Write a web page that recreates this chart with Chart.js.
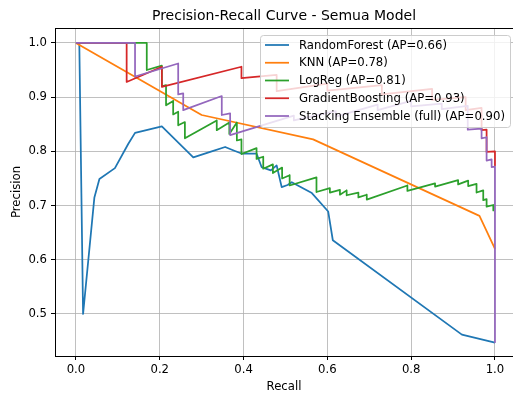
<!DOCTYPE html>
<html>
<head>
<meta charset="utf-8">
<script src="https://cdn.jsdelivr.net/npm/chart.js@4.4.1/dist/chart.umd.min.js"></script>
<style>
	html, body { margin: 0; padding: 0; background: #fff; }
	#wrap { width: 513px; height: 394px; position: relative; }
</style>
</head>
<body>
<div id="wrap"><canvas id="prChart"></canvas></div>
<script>
// values
const xTicks = [0.0, 0.2, 0.4, 0.6, 0.8, 1.0];
const yTicks = [0.5, 0.6, 0.7, 0.8, 0.9, 1.0];

const modelNames = ['RandomForest', 'KNN', 'LogReg', 'GradientBoosting', 'Stacking Ensemble (full)'];
const modelAP = [0.66, 0.78, 0.81, 0.93, 0.90];
const modelColors = ['#1f77b4', '#ff7f0e', '#2ca02c', '#d62728', '#9467bd'];

const rfRecall = [0, 0.008, 0.017, 0.044, 0.056, 0.093, 0.125, 0.141, 0.205, 0.28, 0.324, 0.356, 0.375, 0.395, 0.431, 0.443, 0.465, 0.479, 0.491, 0.505, 0.515, 0.563, 0.602, 0.613, 0.921, 1.0];
const rfPrecision = [1.0, 1.0, 0.5, 0.715, 0.749, 0.769, 0.814, 0.834, 0.846, 0.789, 0.8, 0.808, 0.802, 0.796, 0.796, 0.771, 0.765, 0.774, 0.734, 0.738, 0.743, 0.723, 0.689, 0.636, 0.462, 0.447];

const knnRecall = [0, 0.3, 0.566, 0.963, 1.0];
const knnPrecision = [1.0, 0.867, 0.822, 0.681, 0.62];

const lrRecall = [0, 0.169, 0.169, 0.205, 0.205, 0.215, 0.215, 0.232, 0.232, 0.244, 0.244, 0.26, 0.26, 0.336, 0.336, 0.366, 0.366, 0.384, 0.384, 0.395, 0.395, 0.431, 0.431, 0.447, 0.447, 0.47, 0.47, 0.492, 0.492, 0.51, 0.51, 0.574, 0.574, 0.606, 0.606, 0.63, 0.63, 0.646, 0.646, 0.674, 0.674, 0.694, 0.694, 0.791, 0.791, 0.857, 0.857, 0.912, 0.912, 0.936, 0.936, 0.956, 0.956, 0.972, 0.972, 0.98, 0.98, 0.996, 0.996];
const lrPrecision = [1.0, 1.0, 0.95, 0.958, 0.92, 0.922, 0.885, 0.893, 0.868, 0.873, 0.848, 0.854, 0.824, 0.857, 0.839, 0.853, 0.832, 0.853, 0.82, 0.822, 0.795, 0.806, 0.786, 0.79, 0.768, 0.776, 0.76, 0.77, 0.75, 0.756, 0.737, 0.752, 0.725, 0.732, 0.724, 0.729, 0.72, 0.728, 0.719, 0.724, 0.715, 0.72, 0.711, 0.737, 0.727, 0.741, 0.735, 0.747, 0.739, 0.746, 0.736, 0.74, 0.724, 0.728, 0.71, 0.712, 0.698, 0.701, 0.691];

const gbRecall = [0, 0.121, 0.121, 0.205, 0.205, 0.395, 0.395, 0.479, 0.479, 0.6, 0.6, 0.73, 0.73, 0.85, 0.85, 0.93, 0.93, 0.968, 0.968, 0.98, 0.98, 1.0, 1.0];
const gbPrecision = [1.0, 1.0, 0.928, 0.956, 0.919, 0.956, 0.935, 0.941, 0.911, 0.925, 0.912, 0.922, 0.905, 0.915, 0.895, 0.9, 0.876, 0.88, 0.839, 0.84, 0.799, 0.8, 0.774];

const stRecall = [0, 0.141, 0.141, 0.244, 0.244, 0.256, 0.256, 0.348, 0.348, 0.368, 0.368, 0.52, 0.52, 0.62, 0.62, 0.72, 0.72, 0.8, 0.8, 0.873, 0.873, 0.935, 0.935, 0.968, 0.968, 0.98, 0.98, 0.992, 0.992, 1.0, 1.0];
const stPrecision = [1.0, 1.0, 0.938, 0.962, 0.905, 0.907, 0.876, 0.902, 0.867, 0.87, 0.83, 0.866, 0.857, 0.874, 0.864, 0.886, 0.876, 0.893, 0.883, 0.888, 0.878, 0.884, 0.84, 0.842, 0.824, 0.826, 0.783, 0.785, 0.771, 0.772, 0.448];

const allRecall = [rfRecall, knnRecall, lrRecall, gbRecall, stRecall];
const allPrecision = [rfPrecision, knnPrecision, lrPrecision, gbPrecision, stPrecision];

Chart.defaults.font.family = '"DejaVu Sans", sans-serif';
Chart.defaults.color = '#000';

function toPoints(rec, prec) {
	return rec.map((r, i) => ({ x: r, y: prec[i] }));
}

const datasets = modelNames.map((name, i) => ({
	label: name + ' (AP=' + modelAP[i].toFixed(2) + ')',
	data: toPoints(allRecall[i], allPrecision[i]),
	showLine: true,
	borderColor: modelColors[i],
	backgroundColor: modelColors[i],
	borderWidth: 1.75,
	borderJoinStyle: 'round',
	pointRadius: 0,
	pointHoverRadius: 0,
	tension: 0,
	order: modelNames.length - i
}));

// top spine like matplotlib
const framePlugin = {
	id: 'frame',
	afterDatasetsDraw(chart) {
		const { ctx, chartArea } = chart;
		ctx.save();
		ctx.strokeStyle = '#000';
		ctx.lineWidth = 1;
		ctx.beginPath();
		ctx.moveTo(chartArea.left, chartArea.top + 0.5);
		ctx.lineTo(chartArea.right, chartArea.top + 0.5);
		ctx.stroke();
		ctx.restore();
	}
};

// boxed legend in upper right of the axes
const boxLegendPlugin = {
	id: 'boxLegend',
	afterDraw(chart) {
		const { ctx, chartArea } = chart;
		const sets = chart.data.datasets;
		ctx.save();
		ctx.font = '11.7px "DejaVu Sans"';
		let textW = 0;
		sets.forEach(ds => {
			textW = Math.max(textW, ctx.measureText(ds.label).width);
		});
		const pad = 5, handleLen = 24, gap = 10, rowH = 17.75;
		const w = pad + handleLen + gap + textW + pad;
		const h = 92;
		const right = chartArea.right - 3;
		const x0 = right - w;
		const y0 = chartArea.top + 7;

		ctx.beginPath();
		ctx.roundRect(x0 + 0.5, y0 + 0.5, w, h, 3);
		ctx.fillStyle = 'rgba(255,255,255,0.8)';
		ctx.fill();
		ctx.strokeStyle = '#cccccc';
		ctx.lineWidth = 1;
		ctx.stroke();

		sets.forEach((ds, i) => {
			const cy = y0 + 10 + i * rowH;
			ctx.beginPath();
			ctx.strokeStyle = ds.borderColor;
			ctx.lineWidth = 1.75;
			ctx.moveTo(x0 + pad, cy);
			ctx.lineTo(x0 + pad + handleLen, cy);
			ctx.stroke();
			ctx.fillStyle = '#000';
			ctx.textBaseline = 'middle';
			ctx.textAlign = 'left';
			ctx.fillText(ds.label, x0 + pad + handleLen + gap, cy + 0.5);
		});
		ctx.restore();
	}
};

const gridColor = 'rgba(176,176,176,0.8)';

const ctx = document.getElementById('prChart').getContext('2d');
const prChart = new Chart(ctx, {
	type: 'scatter',
	data: { datasets: datasets },
	options: {
		responsive: true,
		maintainAspectRatio: false,
		animation: false,
		devicePixelRatio: 1,
		layout: { padding: 0 },
		scales: {
			x: {
				type: 'linear',
				min: -0.05,
				max: 1.043,
				afterBuildTicks: axis => { axis.ticks = xTicks.map(v => ({ value: v })); },
				afterFit: scale => { scale.height = 38; },
				ticks: {
					callback: v => v.toFixed(1),
					font: { size: 11.7 },
					color: '#000',
					padding: 3,
					maxRotation: 0,
					autoSkip: false
				},
				grid: {
					color: gridColor,
					lineWidth: 1,
					tickColor: '#000',
					tickLength: 4,
					drawTicks: true
				},
				border: { display: true, color: '#000', width: 1 },
				title: {
					display: true,
					text: 'Recall',
					font: { size: 11.7 },
					color: '#000',
					padding: { top: 0, bottom: 0 }
				}
			},
			y: {
				type: 'linear',
				min: 0.4225,
				max: 1.0275,
				afterBuildTicks: axis => { axis.ticks = yTicks.map(v => ({ value: v })); },
				afterFit: scale => { scale.width = 55; },
				ticks: {
					callback: v => v.toFixed(1),
					font: { size: 11.7 },
					color: '#000',
					padding: 4,
					autoSkip: false
				},
				grid: {
					color: gridColor,
					lineWidth: 1,
					tickColor: '#000',
					tickLength: 4,
					drawTicks: true
				},
				border: { display: true, color: '#000', width: 1 },
				title: {
					display: true,
					text: 'Precision',
					font: { size: 11.7 },
					color: '#000',
					padding: { top: 10, bottom: 0 }
				}
			}
		},
		plugins: {
			legend: { display: false },
			tooltip: { enabled: false },
			title: {
				display: true,
				text: 'Precision-Recall Curve - Semua Model',
				fullSize: false,
				font: { size: 14, weight: 'normal' },
				color: '#000',
				padding: { top: 8, bottom: 3.2 }
			}
		}
	},
	plugins: [framePlugin, boxLegendPlugin]
});
</script>
</body>
</html>
